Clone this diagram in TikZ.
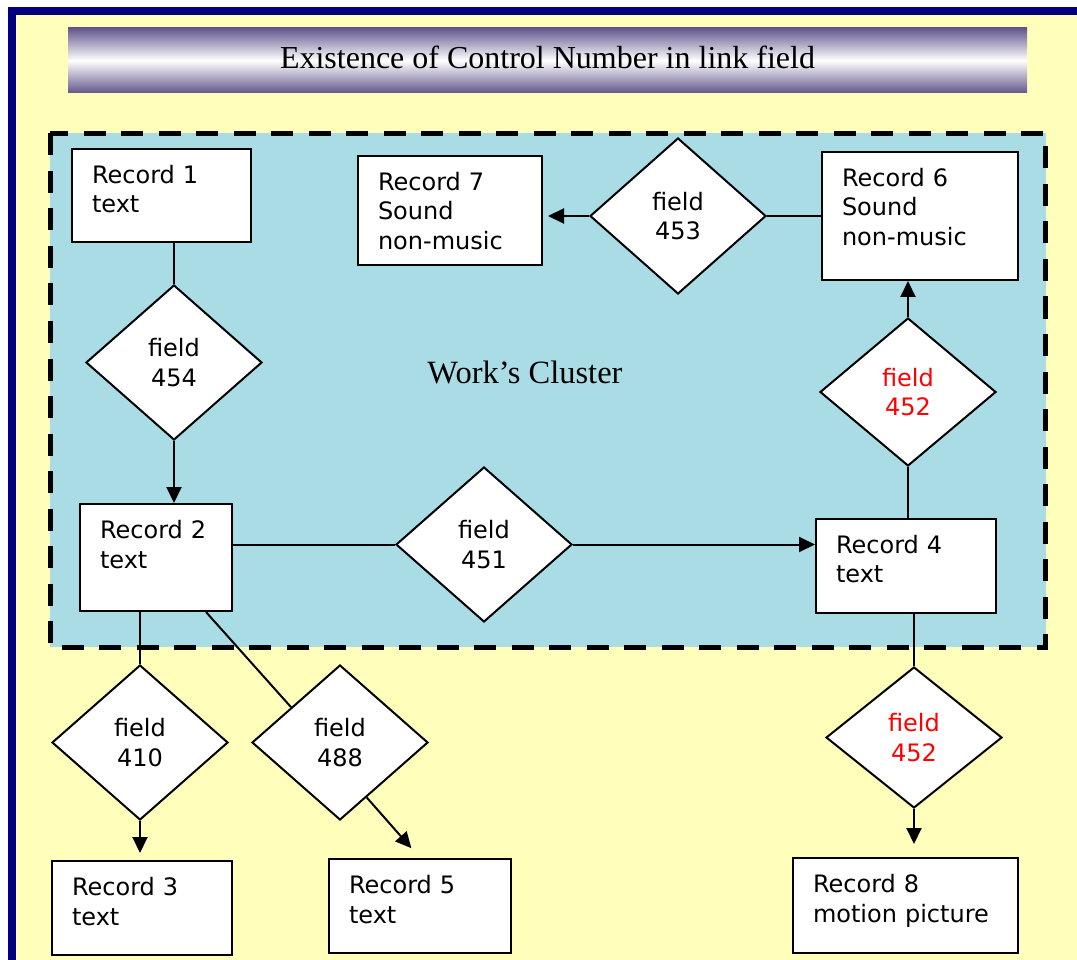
\documentclass[tikz,border=0pt]{standalone}
\usepackage{fontspec}
\setmainfont{Liberation Serif}
\newfontfamily\recfont{DejaVu Sans}
\usetikzlibrary{shapes.geometric, arrows.meta, calc}
\definecolor{framenavy}{RGB}{0,0,128}
\definecolor{pageyellow}{RGB}{255,255,187}
\definecolor{clusterblue}{RGB}{170,220,230}
\definecolor{barpurple}{RGB}{98,86,140}

\begin{document}
\begin{tikzpicture}[x=1pt, y=-1pt,
    record/.style={rectangle, draw=black, line width=2pt, fill=white, font=\recfont\fontsize{24}{29.5}\selectfont, align=left, inner xsep=20pt, inner ysep=17pt, text height=17.5pt},
    field/.style={diamond, draw=black, line width=2pt, fill=white, font=\recfont\fontsize{24}{29.5}\selectfont, align=center, inner sep=0pt, minimum width=176pt, minimum height=155pt},
    link/.style={line width=2pt},
    arrowlink/.style={-{Triangle[length=16pt, width=15pt]}, line width=2pt}]
    %Frame and heading
    \useasboundingbox (0, 0) rectangle (1077, 960);
    \draw[draw=framenavy, line width=8pt, fill=pageyellow] (12, 11) rectangle (1100, 990);
    \node[top color=barpurple, bottom color=barpurple, middle color=white, minimum width=959pt, minimum height=65pt, inner sep=0pt, text height=21.5pt, text depth=6pt, font=\fontsize{32}{38}\selectfont] at (547.5, 60.5) (title) {Existence of Control Number in link field};
    \draw[fill=clusterblue, line width=5pt, dash pattern=on 22pt off 15.5pt] (50, 133.5) rectangle (1045.5, 647);
    \node[font=\fontsize{32.5}{38}\selectfont] at (525, 372) (cluster) {Work’s Cluster};

    %Records
    \node[record, text width=139pt, text depth=41.5pt] at (161.5, 195.5) (rec1) {Record 1\\text};
    \node[record, text width=144pt, text depth=57.5pt] at (450, 210.5) (rec7) {Record 7\\Sound\\non-music};
    \node[record, text width=156pt, text depth=76.5pt] at (920, 216) (rec6) {Record 6\\Sound\\non-music};
    \node[record, text width=112pt, text depth=55.5pt] at (156, 557.5) (rec2) {Record 2\\text};
    \node[record, text width=140pt, text depth=42.5pt] at (906, 565.5) (rec4) {Record 4\\text};
    \node[record, text width=140pt, text depth=42.5pt] at (142, 908) (rec3) {Record 3\\text};
    \node[record, text width=142pt, text depth=42.5pt] at (420, 906) (rec5) {Record 5\\text};
    \node[record, text width=185pt, text depth=43.5pt] at (905.5, 905.5) (rec8) {Record 8\\motion picture};

    %Fields
    \node[field] at (174, 362.5) (f454) {field\\454};
    \node[field, minimum height=156pt] at (678, 216) (f453) {field\\453};
    \node[field, minimum height=148pt, text=red] at (908, 392) (f452a) {field\\452};
    \node[field] at (484, 544.5) (f451) {field\\451};
    \node[field] at (140, 742.5) (f410) {field\\410};
    \node[field] at (340, 742.5) (f488) {field\\488};
    \node[field, minimum height=141pt, text=red] at (914, 737.5) (f452b) {field\\452};

    %Lines
    \draw[link] (rec1.south -| f454.north) -- (f454.north);
    \draw[arrowlink] (f454.south) -- (f454.south |- rec2.north);
    \draw[link] (rec2.east |- f451.west) -- (f451.west);
    \draw[arrowlink] (f451.east) -- (f451.east -| rec4.west);
    \draw[link] (rec4.north -| f452a.south) -- (f452a.south);
    \draw[arrowlink] (f452a.north) -- (f452a.north |- rec6.south);
    \draw[link] (rec6.west |- f453.east) -- (f453.east);
    \draw[arrowlink, shorten >=5pt] (f453.west) -- (f453.west -| rec7.east);
    \draw[link] (f410.north |- rec2.south) -- (f410.north);
    \draw[arrowlink, shorten >=7pt] (f410.south) -- (f410.south |- rec3.north);
    \draw[link] ([xshift=-27pt]rec2.south east) -- ($(f488.west)!0.45!(f488.north)$);
    \draw[arrowlink, shorten >=13pt] ($(f488.south)!0.3!(f488.east)$) -- (rec5.north);
    \draw[link] (rec4.south -| f452b.north) -- (f452b.north);
    \draw[arrowlink, shorten >=13pt] (f452b.south) -- (f452b.south |- rec8.north);
\end{tikzpicture}
\end{document}
